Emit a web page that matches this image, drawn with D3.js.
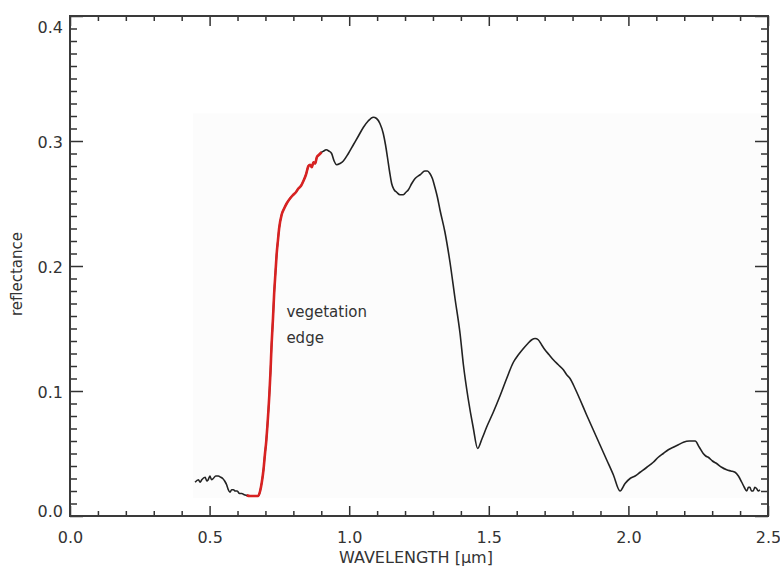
<!DOCTYPE html>
<html>
<head>
<meta charset="utf-8">
<script src="https://cdn.jsdelivr.net/npm/d3@7"></script>
<style>
  body { margin: 0; background: #fff; }
  svg { display: block; font-family: "DejaVu Sans", sans-serif; }
</style>
</head>
<body>
<div id="chart"></div>
<script>
// spectrum: wavelength [um] and reflectance
var wavelength = [
  0.448, 0.460, 0.466, 0.472, 0.484, 0.490, 0.495, 0.501, 0.507, 0.513,
  0.522, 0.531, 0.540, 0.547, 0.554, 0.561, 0.567, 0.573, 0.579, 0.585,
  0.592, 0.599, 0.607, 0.615, 0.624, 0.633, 0.645, 0.660, 0.674, 0.681,
  0.687, 0.693, 0.698, 0.703, 0.707, 0.714, 0.718, 0.722, 0.727, 0.731,
  0.736, 0.740, 0.745, 0.749, 0.758, 0.767, 0.776, 0.788, 0.800, 0.809,
  0.818, 0.827, 0.836, 0.845, 0.854, 0.860, 0.866, 0.872, 0.878, 0.884,
  0.892, 0.901, 0.909, 0.917, 0.927, 0.937, 0.946, 0.955, 0.967, 0.979,
  0.997, 1.015, 1.033, 1.051, 1.068, 1.086, 1.098, 1.110, 1.122, 1.130,
  1.137, 1.145, 1.152, 1.161, 1.170, 1.182, 1.194, 1.203, 1.212, 1.224,
  1.236, 1.254, 1.271, 1.280, 1.289, 1.298, 1.307, 1.316, 1.325, 1.343,
  1.361, 1.379, 1.397, 1.409, 1.426, 1.444, 1.460, 1.476, 1.492, 1.516,
  1.540, 1.564, 1.588, 1.606, 1.624, 1.640, 1.654, 1.666, 1.677, 1.689,
  1.701, 1.716, 1.731, 1.749, 1.767, 1.779, 1.791, 1.809, 1.827, 1.850,
  1.874, 1.898, 1.922, 1.946, 1.970, 1.988, 2.006, 2.024, 2.042, 2.066,
  2.089, 2.107, 2.125, 2.143, 2.161, 2.179, 2.197, 2.218, 2.239, 2.254,
  2.268, 2.277, 2.286, 2.301, 2.316, 2.334, 2.352, 2.367, 2.382, 2.394,
  2.406, 2.415, 2.424, 2.430, 2.435, 2.441, 2.447, 2.453, 2.459, 2.465,
  2.471
];
var reflectance = [
  0.027, 0.029, 0.027, 0.029, 0.031, 0.028, 0.029, 0.032, 0.029, 0.030,
  0.032, 0.032, 0.031, 0.030, 0.028, 0.025, 0.021, 0.019, 0.021, 0.021,
  0.020, 0.020, 0.018, 0.018, 0.017, 0.0165, 0.016, 0.016, 0.016, 0.020,
  0.027, 0.037, 0.049, 0.060, 0.072, 0.097, 0.115, 0.137, 0.158, 0.177,
  0.195, 0.209, 0.221, 0.230, 0.241, 0.246, 0.250, 0.254, 0.257, 0.259,
  0.262, 0.264, 0.268, 0.273, 0.280, 0.281, 0.279, 0.283, 0.282, 0.287,
  0.289, 0.291, 0.292, 0.293, 0.292, 0.290, 0.284, 0.281, 0.282, 0.284,
  0.290, 0.297, 0.304, 0.311, 0.316, 0.319, 0.318, 0.314, 0.306, 0.297,
  0.287, 0.275, 0.266, 0.261, 0.259, 0.257, 0.257, 0.259, 0.261, 0.266,
  0.270, 0.273, 0.276, 0.276, 0.274, 0.270, 0.263, 0.255, 0.245, 0.227,
  0.203, 0.174, 0.146, 0.121, 0.094, 0.071, 0.054, 0.062, 0.071, 0.083,
  0.096, 0.110, 0.123, 0.129, 0.134, 0.138, 0.141, 0.142, 0.141, 0.137,
  0.133, 0.129, 0.125, 0.121, 0.117, 0.113, 0.110, 0.102, 0.093, 0.081,
  0.069, 0.057, 0.045, 0.033, 0.020, 0.026, 0.030, 0.032, 0.035, 0.039,
  0.043, 0.047, 0.050, 0.053, 0.055, 0.057, 0.059, 0.060, 0.060, 0.055,
  0.050, 0.048, 0.047, 0.044, 0.042, 0.039, 0.037, 0.036, 0.035, 0.032,
  0.027, 0.023, 0.020, 0.023, 0.023, 0.020, 0.020, 0.023, 0.022, 0.020,
  0.021
];
// part of the spectrum drawn in red
var edgeRange = [0.633, 0.901];

var xTicks = [0.0, 0.5, 1.0, 1.5, 2.0, 2.5];
var yTicks = [0.0, 0.1, 0.2, 0.3, 0.4];
var xTitle = "WAVELENGTH [\u03bcm]";
var yTitle = "reflectance";
var noteLines = ["vegetation", "edge"];

var svgW = 780, svgH = 566;
var margin = { top: 16, right: 12, bottom: 50, left: 70 };
var width = svgW - margin.left - margin.right;
var height = svgH - margin.top - margin.bottom;

var svg = d3.select("#chart").append("svg").attr("width", svgW).attr("height", svgH);
var g = svg.append("g").attr("transform", "translate(" + margin.left + "," + margin.top + ")");

var x = d3.scaleLinear().domain([0, 2.5]).range([0, width]);
var y = d3.scaleLinear().domain([0, 0.4]).range([height, 0]);

var data = wavelength.map(function (w, i) { return { w: w, r: reflectance[i] }; });
var edge = data.filter(function (d) { return d.w >= edgeRange[0] && d.w <= edgeRange[1]; });

// faint backdrop behind the spectrum (scan artefact in the original)
g.append("rect")
  .attr("x", x(0.44)).attr("y", y(0.322))
  .attr("width", x(2.5) - x(0.44)).attr("height", y(0.0145) - y(0.322))
  .attr("fill", "#fcfcfc");

var line = d3.line()
  .x(function (d) { return x(d.w); })
  .y(function (d) { return y(d.r); })
  .curve(d3.curveMonotoneX);

g.append("path").datum(data)
  .attr("fill", "none").attr("stroke", "#222").attr("stroke-width", 1.6)
  .attr("stroke-linejoin", "round").attr("d", line);

g.append("path").datum(edge)
  .attr("fill", "none").attr("stroke", "#d82222").attr("stroke-width", 2.6)
  .attr("stroke-linejoin", "round").attr("d", line);

// minor ticks
var xMinor = d3.range(0, 25).map(function (i) { return i / 10; }).filter(function (v, i) { return i % 5 !== 0; });
var yMinor = d3.range(0, 40).map(function (i) { return i / 100; }).filter(function (v, i) { return i % 10 !== 0; });

function styleAxis(sel) {
  sel.select(".domain").remove();
  sel.selectAll("line").attr("stroke", "#333").attr("stroke-width", 1.5);
}

g.append("g").attr("transform", "translate(0," + height + ")")
  .call(d3.axisBottom(x).tickValues(xMinor).tickSize(-5).tickFormat("")).call(styleAxis);
g.append("g")
  .call(d3.axisTop(x).tickValues(xMinor).tickSize(-5).tickFormat("")).call(styleAxis);
g.append("g")
  .call(d3.axisLeft(y).tickValues(yMinor).tickSize(-7).tickFormat("")).call(styleAxis);
g.append("g").attr("transform", "translate(" + width + ",0)")
  .call(d3.axisRight(y).tickValues(yMinor).tickSize(-7).tickFormat("")).call(styleAxis);

// major ticks
var xAxis = g.append("g").attr("transform", "translate(0," + height + ")")
  .call(d3.axisBottom(x).tickValues(xTicks).tickSize(-10).tickPadding(0).tickFormat(d3.format(".1f")))
  .call(styleAxis);
xAxis.selectAll("text").attr("y", 27).attr("dy", 0)
  .attr("fill", "#333").style("font-size", "16px").style("font-family", "DejaVu Sans, sans-serif");

g.append("g").call(d3.axisTop(x).tickValues(xTicks).tickSize(-10).tickFormat("")).call(styleAxis);

var yAxis = g.append("g")
  .call(d3.axisLeft(y).tickValues(yTicks).tickSize(-13).tickPadding(0).tickFormat(d3.format(".1f")))
  .call(styleAxis);
yAxis.selectAll("text").attr("x", -7)
  .attr("dy", function (d) { return d === 0.4 ? "1.05em" : d === 0 ? "0.05em" : "0.4em"; })
  .attr("fill", "#333").style("font-size", "16px").style("font-family", "DejaVu Sans, sans-serif");

g.append("g").attr("transform", "translate(" + width + ",0)")
  .call(d3.axisRight(y).tickValues(yTicks).tickSize(-13).tickFormat("")).call(styleAxis);

// frame
g.append("rect").attr("x", 0).attr("y", 0).attr("width", width).attr("height", height)
  .attr("fill", "none").attr("stroke", "#3a3a3a").attr("stroke-width", 2);

// titles
svg.append("text")
  .attr("x", margin.left + width / 2 - 3).attr("y", 563)
  .attr("text-anchor", "middle").attr("fill", "#333").style("font-size", "16px")
  .text(xTitle);

svg.append("text")
  .attr("transform", "translate(22," + 274 + ") rotate(-90)")
  .attr("text-anchor", "middle").attr("fill", "#333").style("font-size", "15px")
  .text(yTitle);

// annotation next to the red edge
var note = g.append("text").attr("fill", "#333").style("font-size", "15px");
note.selectAll("tspan").data(noteLines).enter().append("tspan")
  .attr("x", x(0.775)).attr("y", function (d, i) { return y(0.159) + i * 26; })
  .text(function (d) { return d; });
</script>
</body>
</html>
